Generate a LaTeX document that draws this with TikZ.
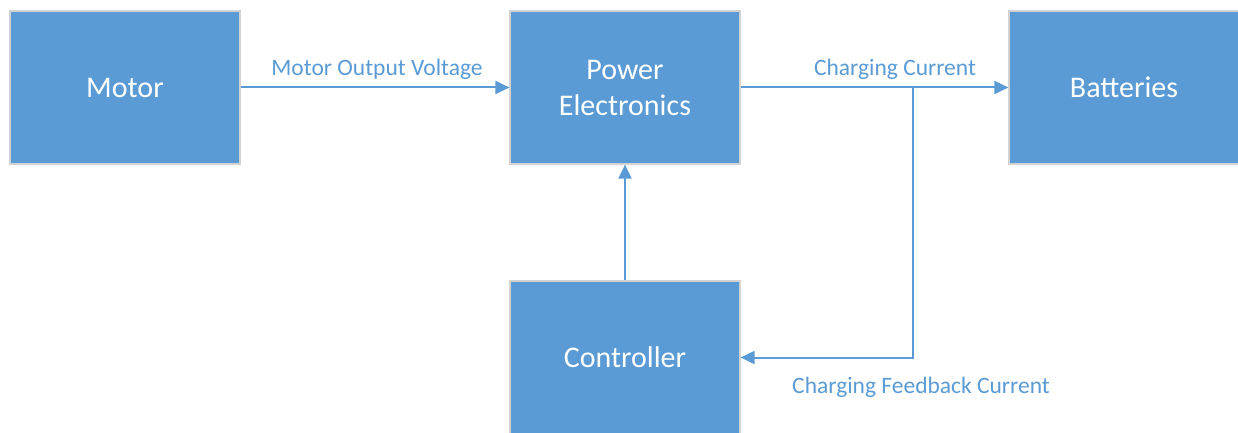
\documentclass[tikz,border=0pt]{standalone}
\usepackage{fontspec}
\setmainfont{Carlito}
\usetikzlibrary{arrows.meta}
\definecolor{boxblue}{RGB}{91,155,213}
\definecolor{edgegray}{RGB}{210,210,210}
\tikzset{
  blockbox/.style={rectangle, fill=boxblue, draw=edgegray, line width=1.2pt,
    minimum width=230pt, minimum height=153pt, inner sep=0pt, text=white,
    align=center, font=\fontsize{30}{36}\selectfont},
  conn/.style={draw=boxblue, line width=2pt, -{Triangle[length=14pt,width=13pt]}},
  lbl/.style={text=boxblue, font=\fontsize{23.5}{28}\selectfont, inner sep=0pt}
}
\begin{document}
\begin{tikzpicture}[x=1pt,y=-1pt]
\clip (0,0) rectangle (1238,433);
\fill[white] (0,0) rectangle (1238,433);
\node[blockbox] (motor) at (125,87.5) {Motor};
\node[blockbox] (pe) at (625,87.5) {Power\\Electronics};
\node[blockbox] (bat) at (1124,87.5) {Batteries};
\node[blockbox] (ctrl) at (625,357.5) {Controller};
\coordinate (j) at (913,87.5);
\draw[conn] (motor.east) -- (pe.west);
\draw[conn] (pe.east) -- (bat.west);
\draw[conn] (ctrl.north) -- (pe.south);
\draw[conn] (j) |- (ctrl.east);
\node[lbl] (l1) at (377,69) {Motor Output Voltage};
\node[lbl] (l2) at (895,69) {Charging Current};
\node[lbl] (l3) at (921,387) {Charging Feedback Current};
\end{tikzpicture}
\end{document}
